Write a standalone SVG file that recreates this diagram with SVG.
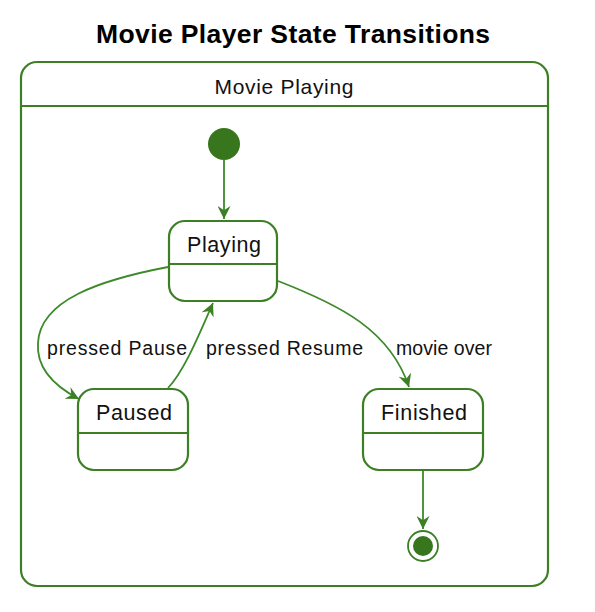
<svg xmlns="http://www.w3.org/2000/svg" width="595" height="612" viewBox="0 0 595 612">
<style>
.box{fill:#ffffff;stroke:#3c7f24;stroke-width:2.2}
.div{stroke:#3c7f24;stroke-width:2.2}
.edge{fill:none;stroke:#3c8a2a;stroke-width:1.8}
.name{font-family:"Liberation Sans",Arial,sans-serif;font-size:21.5px;fill:#111;text-anchor:middle}
.lbl{font-family:"Liberation Sans",Arial,sans-serif;font-size:19.5px;fill:#111}
.title{font-family:"Liberation Sans",Arial,sans-serif;font-size:26.5px;font-weight:bold;fill:#000;text-anchor:middle}
</style>
<defs>
<marker id="arr" viewBox="0 0 12 12" refX="12" refY="6" markerWidth="13" markerHeight="13" markerUnits="userSpaceOnUse" orient="auto">
<path d="M0,0 L12,6 L0,12 L4,6 Z" fill="#3c7f24"/>
</marker>
</defs>
<rect width="595" height="612" fill="#ffffff"/>
<text class="title" x="293" y="43" textLength="394" lengthAdjust="spacing">Movie Player State Transitions</text>
<g id="movie-playing">
<rect class="box" x="21" y="62" width="527" height="524" rx="16"/>
<line class="div" x1="21" y1="106" x2="548" y2="106"/>
<text class="name" x="284" y="94" style="font-size:21px" textLength="139" lengthAdjust="spacing">Movie Playing</text>
</g>
<g id="initial">
<circle cx="224" cy="144" r="16" fill="#38761d"/>
</g>
<g id="playing">
<rect class="box" x="169" y="221" width="108" height="80" rx="16"/>
<line class="div" x1="169" y1="264" x2="277" y2="264"/>
<text class="name" x="224" y="252" textLength="74" lengthAdjust="spacing">Playing</text>
</g>
<g id="paused">
<rect class="box" x="78" y="389" width="110" height="81" rx="16"/>
<line class="div" x1="78" y1="433" x2="188" y2="433"/>
<text class="name" x="134" y="420" textLength="76" lengthAdjust="spacing">Paused</text>
</g>
<g id="finished">
<rect class="box" x="363" y="389" width="120" height="81" rx="16"/>
<line class="div" x1="363" y1="433" x2="483" y2="433"/>
<text class="name" x="424" y="420" textLength="86" lengthAdjust="spacing">Finished</text>
</g>
<g id="final">
<circle cx="423" cy="546" r="15" fill="#ffffff" stroke="#3c7f24" stroke-width="1.8"/>
<circle cx="423" cy="546" r="10" fill="#38761d"/>
</g>
<g id="connectors">
<path class="edge" d="M224,160 L224,219" marker-end="url(#arr)"/>
<path class="edge" d="M168,267 C100,280 40,300 38,343 C36,370 58,388 79,399" marker-end="url(#arr)"/>
<path class="edge" d="M168,388 C185,370 200,332 213,303" marker-end="url(#arr)"/>
<path class="edge" d="M278,281 C340,305 390,330 409,387" marker-end="url(#arr)"/>
<path class="edge" d="M423,471 L423,529" marker-end="url(#arr)"/>
<text class="lbl" x="47" y="355" textLength="140" lengthAdjust="spacing">pressed Pause</text>
<text class="lbl" x="206" y="355" textLength="157" lengthAdjust="spacing">pressed Resume</text>
<text class="lbl" x="396" y="355" textLength="96" lengthAdjust="spacing">movie over</text>
</g>
</svg>
